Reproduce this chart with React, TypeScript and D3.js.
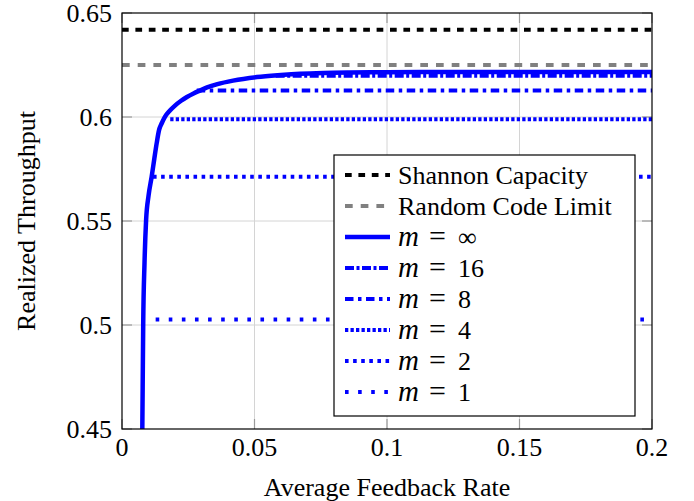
import React from 'react';
import * as d3 from 'd3';

// axis ticks
const xTicks = [0, 0.05, 0.1, 0.15, 0.2];
const xTickLabels = ['0', '0.05', '0.1', '0.15', '0.2'];
const yTicks = [0.45, 0.5, 0.55, 0.6, 0.65];
const yTickLabels = ['0.45', '0.5', '0.55', '0.6', '0.65'];

// reference levels
const shannonCapacity = 0.642;
const randomCodeLimit = 0.625;

// m = infinity curve
const infX = [0.0076, 0.0078, 0.008, 0.0085, 0.0091, 0.01, 0.0112, 0.0122, 0.0131, 0.014, 0.015, 0.0162, 0.018, 0.02, 0.0223, 0.0245, 0.027, 0.0294, 0.0321, 0.036, 0.0419, 0.0509, 0.06, 0.0672, 0.076, 0.086, 0.1, 0.12, 0.15, 0.2];
const infY = [0.44, 0.47, 0.5, 0.53, 0.5505, 0.562, 0.5713, 0.58, 0.5875, 0.5938, 0.597, 0.6001, 0.603, 0.6055, 0.6078, 0.6096, 0.6113, 0.6127, 0.6142, 0.6158, 0.6175, 0.6192, 0.6202, 0.6208, 0.6212, 0.6214, 0.6215, 0.6216, 0.6216, 0.6216];

// finite m levels
const levelNames = ['16', '8', '4', '2', '1'];
const levelValues = [0.6198, 0.6127, 0.5989, 0.5713, 0.5027];
const levelStart = [0.058, 0.0282, 0.0182, 0.0117, 0.0127];

const W = 694, H = 501;
const margin = { left: 122, top: 13, right: 42, bottom: 72 };
const width = W - margin.left - margin.right;
const height = H - margin.top - margin.bottom;
const BLUE = '#0000ff';
const fs = 26;
const tk = 10;

const levelDash = ['9 2.5 3 2.5', '8.5 4.5 3.5 4.5', '3.3 2.2', '3.6 4.5', '3.6 9.5'];

const x = d3.scaleLinear().domain([0, 0.2]).range([0, width]);
const y = d3.scaleLinear().domain([0.45, 0.65]).range([height, 0]);
const line = d3.line<[number, number]>().x((d) => x(d[0])).y((d) => y(d[1]));
const curve = d3.line<[number, number]>().x((d) => x(d[0])).y((d) => y(d[1])).curve(d3.curveMonotoneX);

const legendEntries = [
  { label: 'Shannon Capacity', stroke: '#000', dash: '6.7 6.7', w: 4 },
  { label: 'Random Code Limit', stroke: '#808080', dash: '7.7 8', w: 4 },
  { m: '\u221e', stroke: BLUE, dash: undefined, w: 4.5 },
  ...levelNames.map((n, i) => ({ m: n, stroke: BLUE, dash: levelDash[i], w: 4 })),
];

const App = () => {
  document.body.style.margin = '0';
  return (
    <svg width={W} height={H} style={{ display: 'block', fontFamily: "'Liberation Serif'", fontSize: `${fs}px` }}>
      <defs>
        <clipPath id="plotclip">
          <rect x={margin.left} y={margin.top} width={width} height={height} />
        </clipPath>
      </defs>
      <g transform={`translate(${margin.left},${margin.top})`}>
        {/* grid */}
        <g stroke="#d4d4d4" strokeWidth={1}>
          {xTicks.slice(1, -1).map((d) => <line key={'gx' + d} x1={x(d)} x2={x(d)} y1={0} y2={height} />)}
          {yTicks.slice(1, -1).map((d) => <line key={'gy' + d} y1={y(d)} y2={y(d)} x1={0} x2={width} />)}
        </g>
        {/* ticks */}
        <g stroke="#9a9a9a" strokeWidth={1.2}>
          {xTicks.map((d) => (
            <g key={'tx' + d}>
              <line x1={x(d)} x2={x(d)} y1={height} y2={height - tk} />
              <line x1={x(d)} x2={x(d)} y1={0} y2={tk} />
            </g>
          ))}
          {yTicks.map((d) => (
            <g key={'ty' + d}>
              <line y1={y(d)} y2={y(d)} x1={0} x2={tk} />
              <line y1={y(d)} y2={y(d)} x1={width} x2={width - tk} />
            </g>
          ))}
        </g>
      </g>
      <g clipPath="url(#plotclip)">
        <g transform={`translate(${margin.left},${margin.top})`} fill="none">
          <path d={line([[0, shannonCapacity], [0.2, shannonCapacity]]) || ''} stroke="#000" strokeWidth={4} strokeDasharray="6.7 6.7" />
          <path d={line([[0, randomCodeLimit], [0.2, randomCodeLimit]]) || ''} stroke="#808080" strokeWidth={4} strokeDasharray="7.7 8" />
          <path d={curve(infX.map((d, i) => [d, infY[i]] as [number, number])) || ''} stroke={BLUE} strokeWidth={4.5} strokeLinejoin="round" />
          {levelValues.map((v, i) => (
            <path key={'lv' + i} d={line([[levelStart[i], v], [0.2, v]]) || ''} stroke={BLUE} strokeWidth={4} strokeDasharray={levelDash[i]} />
          ))}
        </g>
      </g>
      <g transform={`translate(${margin.left},${margin.top})`}>
        <rect width={width} height={height} fill="none" stroke="#000" strokeWidth={1.2} />
        {xTicks.map((d, i) => (
          <text key={'xl' + d} x={x(d)} y={height + 27} textAnchor="middle">{xTickLabels[i]}</text>
        ))}
        {yTicks.map((d, i) => (
          <text key={'yl' + d} x={-10} y={y(d) + 8.5} textAnchor="end">{yTickLabels[i]}</text>
        ))}
        <text x={width / 2} y={height + 67} textAnchor="middle">Average Feedback Rate</text>
        <text transform={`translate(${35 - margin.left},${height / 2}) rotate(-90)`} textAnchor="middle">Realized Throughput</text>
      </g>
      {/* legend */}
      <g transform="translate(334,155)">
        <rect width={301} height={261} fill="#fff" stroke="#000" strokeWidth={1.2} />
        {legendEntries.map((e, i) => {
          const cy = 20 + i * 31;
          return (
            <g key={'lg' + i}>
              <line x1={11} x2={56} y1={cy} y2={cy} stroke={e.stroke} strokeWidth={e.w} strokeDasharray={e.dash} />
              {'label' in e && e.label ? (
                <text x={64} y={cy + 9}>{e.label}</text>
              ) : (
                <>
                  <text x={64} y={cy + 9} fontStyle="italic" style={{ fontSize: `${fs + 3}px` }}>m</text>
                  <text x={103.5} y={cy + 9} textAnchor="middle" style={{ fontSize: `${fs + 4}px` }}>=</text>
                  <text x={124} y={cy + 9}>{e.m}</text>
                </>
              )}
            </g>
          );
        })}
      </g>
    </svg>
  );
};

export default App;
